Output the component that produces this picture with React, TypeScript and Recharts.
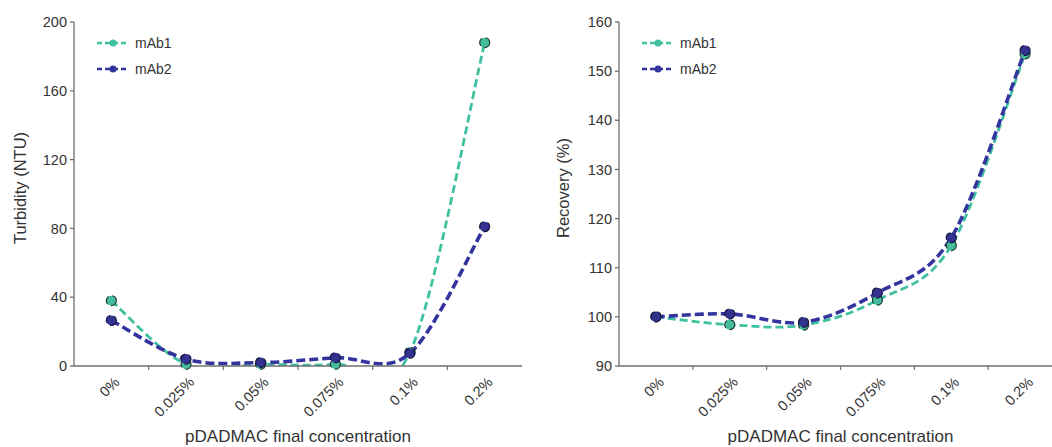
import { LineChart, Line, XAxis, YAxis, Legend } from 'recharts';

const concentrations = ['0%', '0.025%', '0.05%', '0.075%', '0.1%', '0.2%'];
const turbidityMab1 = [38, 1, 1, 1, 8, 188];
const turbidityMab2 = [26.5, 4, 2, 4.8, 7.4, 81];
const recoveryMab1 = [100, 98.4, 98.3, 103.4, 114.5, 153.5];
const recoveryMab2 = [100, 100.6, 98.9, 104.9, 116.1, 154.2];
const turbidityTicks = [0, 40, 80, 120, 160, 200];
const recoveryTicks = [90, 100, 110, 120, 130, 140, 150, 160];

const TEXT = '#333';
const AXIS = '#6e6e6e';
const MAB1 = '#3fc0a0';
const MAB2 = '#34349e';

const seriesStyle: Record<string, { stroke: string; width: number; dash: string; dotFill: string; dotStroke: string }> = {
  mAb1: { stroke: MAB1, width: 2.8, dash: '8 4', dotFill: '#45bc9c', dotStroke: '#1f3d36' },
  mAb2: { stroke: MAB2, width: 3.6, dash: '9 4', dotFill: '#33338f', dotStroke: '#16163f' },
};

// half-step ticks: integers carry labels, halves are the band separators
const xTicks = concentrations.flatMap((_, i) => (i === 0 ? [0] : [i - 0.5, i]));

const buildRows = (a: number[], b: number[]) =>
  concentrations.map((c, i) => ({ idx: i, label: c, mAb1: a[i], mAb2: b[i] }));

// Excel-style smoothed line (Catmull-Rom through the points)
const smoothCurve = (context: any) => {
  let pts: [number, number][] = [];
  return {
    areaStart() {},
    areaEnd() {},
    lineStart() {
      pts = [];
    },
    lineEnd() {
      const n = pts.length;
      if (!n) return;
      context.moveTo(pts[0][0], pts[0][1]);
      for (let i = 0; i < n - 1; i++) {
        const p0 = pts[Math.max(i - 1, 0)];
        const p1 = pts[i];
        const p2 = pts[i + 1];
        const p3 = pts[Math.min(i + 2, n - 1)];
        context.bezierCurveTo(
          p1[0] + (p2[0] - p0[0]) / 6,
          p1[1] + (p2[1] - p0[1]) / 6,
          p2[0] - (p3[0] - p1[0]) / 6,
          p2[1] - (p3[1] - p1[1]) / 6,
          p2[0],
          p2[1]
        );
      }
    },
    point(x: number, y: number) {
      pts.push([x, y]);
    },
  };
};

const XTick = (props: any) => {
  const { x, y, payload } = props;
  const v = payload.value;
  if (!Number.isInteger(v)) {
    return <line x1={x} y1={y} x2={x} y2={y + 4} stroke={AXIS} strokeWidth={1.2} />;
  }
  const tx = x + 9;
  const ty = y + 17;
  return (
    <text x={tx} y={ty} transform={`rotate(-45, ${tx}, ${ty})`} textAnchor="end" fontSize={14.5} fill={TEXT}>
      {concentrations[v]}
    </text>
  );
};

const YTitle = (props: any) => {
  const { viewBox, text, titleX } = props;
  const cx = titleX;
  const cy = viewBox.y + viewBox.height / 2 - 6;
  return (
    <text
      x={cx}
      y={cy}
      transform={`rotate(-90, ${cx}, ${cy})`}
      textAnchor="middle"
      dominantBaseline="central"
      fontSize={16.5}
      fill={TEXT}
    >
      {text}
    </text>
  );
};

const renderLegend = (props: any) => {
  const { payload } = props;
  return (
    <div>
      {payload.map((entry: any) => {
        const s = seriesStyle[entry.value];
        return (
          <div key={entry.value} style={{ display: 'flex', alignItems: 'center', height: 26 }}>
            <svg width={38} height={12}>
              <line x1={0} y1={6} x2={32} y2={6} stroke={s.stroke} strokeWidth={2.4} strokeDasharray="5 3" />
              <circle cx={16} cy={6} r={3.5} fill={s.stroke} />
            </svg>
            <span style={{ fontSize: 14, color: TEXT }}>{entry.value}</span>
          </div>
        );
      })}
    </div>
  );
};

interface PanelProps {
  rows: ReturnType<typeof buildRows>;
  width: number;
  axisWidth: number;
  yLabel: string;
  yLabelX: number;
  domain: [number, number];
  ticks: number[];
  legendLeft: number;
}

const Panel = ({ rows, width, axisWidth, yLabel, yLabelX, domain, ticks, legendLeft }: PanelProps) => (
  <LineChart width={width} height={447} data={rows} margin={{ top: 22, right: 8, left: 0, bottom: 0 }}>
    <XAxis
      dataKey="idx"
      type="number"
      domain={[-0.5, concentrations.length - 0.5]}
      ticks={xTicks}
      interval={0}
      tick={<XTick />}
      tickLine={false}
      tickSize={0}
      tickMargin={0}
      height={81}
      stroke={AXIS}
      strokeWidth={1.3}
      label={{ value: 'pDADMAC final concentration', position: 'insideBottom', offset: 5, fontSize: 17, fill: TEXT }}
    />
    <YAxis
      type="number"
      domain={domain}
      ticks={ticks}
      allowDataOverflow
      width={axisWidth}
      stroke={AXIS}
      strokeWidth={1.3}
      tickSize={4}
      tickMargin={3}
      tick={{ fontSize: 14.5, fill: TEXT }}
      label={<YTitle text={yLabel} titleX={yLabelX} />}
    />
    <Legend
      content={renderLegend}
      layout="vertical"
      verticalAlign="middle"
      align="center"
      wrapperStyle={{ left: legendLeft, top: 30, width: 120 }}
    />
    {(['mAb1', 'mAb2'] as const).map((key) => {
      const s = seriesStyle[key];
      return (
        <Line
          key={key}
          dataKey={key}
          name={key}
          type={smoothCurve as any}
          stroke={s.stroke}
          strokeWidth={s.width}
          strokeDasharray={s.dash}
          dot={{ r: 5, fill: s.dotFill, stroke: s.dotStroke, strokeWidth: 1.2, clipDot: false }}
          activeDot={false}
          isAnimationActive={false}
        />
      );
    })}
  </LineChart>
);

export default function App() {
  const turbidityRows = buildRows(turbidityMab1, turbidityMab2);
  const recoveryRows = buildRows(recoveryMab1, recoveryMab2);
  return (
    <div
      style={{
        position: 'absolute',
        left: 0,
        top: 0,
        width: 1052,
        height: 447,
        overflow: 'hidden',
        background: '#fff',
        fontFamily: '"Liberation Sans", Arial, sans-serif',
      }}
    >
      <div style={{ position: 'absolute', left: 0, top: 0 }}>
        <Panel
          rows={turbidityRows}
          width={530}
          axisWidth={74}
          yLabel="Turbidity (NTU)"
          yLabelX={20}
          domain={[0, 200]}
          ticks={turbidityTicks}
          legendLeft={97}
        />
      </div>
      <div style={{ position: 'absolute', left: 530, top: 0 }}>
        <Panel
          rows={recoveryRows}
          width={540}
          axisWidth={89}
          yLabel="Recovery (%)"
          yLabelX={33}
          domain={[90, 160]}
          ticks={recoveryTicks}
          legendLeft={112}
        />
      </div>
    </div>
  );
}
